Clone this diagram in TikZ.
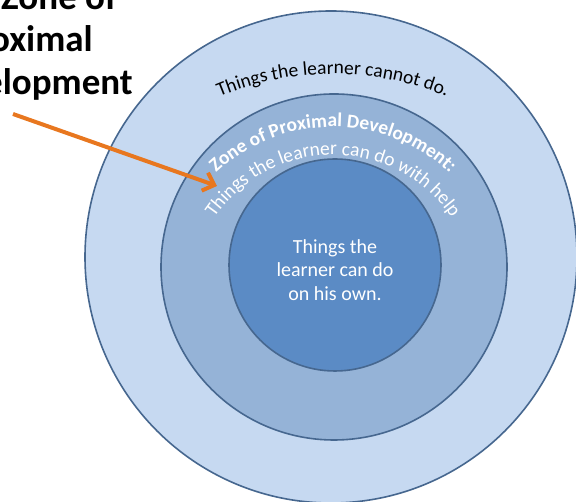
\documentclass[tikz,border=0pt]{standalone}
\usepackage{fontspec}
\setmainfont{Carlito}
\usetikzlibrary{arrows.meta,decorations.text}
\definecolor{outerblue}{HTML}{C6D9F1}
\definecolor{midblue}{HTML}{95B3D7}
\definecolor{innerblue}{HTML}{5B8BC5}
\definecolor{ringline}{HTML}{46678F}
\definecolor{zpdorange}{HTML}{E8771F}
\tikzset{ring/.style={draw=ringline,line width=1.6pt},
         titletext/.style={anchor=base east,inner sep=0pt,font=\bfseries\fontsize{37}{44}\selectfont}}

\begin{document}
\begin{tikzpicture}[x=1pt,y=1pt]
  \useasboundingbox (0,0) rectangle (576,502);
  \clip (0,0) rectangle (576,502);
  % the three zones
  \filldraw[ring,fill=outerblue] (331,245) circle (246pt);
  \filldraw[ring,fill=midblue]   (334,235) circle (173pt);
  \filldraw[ring,fill=innerblue] (335,237) circle (106pt);
  % arc centres for the curved texts
  \coordinate (outerc) at (333,132);
  \coordinate (midc)   at (333,204);
  \path[decorate,decoration={text along path,text align=center,
        text={|\fontsize{19.5}{23}\selectfont|Things the learner cannot do.}}]
    (outerc) ++(140:296pt) arc (140:40:296pt);
  \path[decorate,decoration={text along path,text align=center,
        text={|\color{white}\bfseries\fontsize{19.5}{23}\selectfont|Zone of Proximal Development:}}]
    (midc) ++(165:171pt) arc (165:15:171pt);
  \path[decorate,decoration={text along path,text align=center,
        text={|\color{white}\fontsize{19.5}{23}\selectfont|Things the learner can do with help}}]
    (midc) ++(170:143pt) arc (170:10:143pt);
  \node[text=white,align=center,font=\fontsize{20}{23.5}\selectfont] (own) at (335,232)
    {Things the\\learner can do\\on his own.};
  % heading, cut at the edge
  \node[titletext] (zone) at (117,492) {Zone of};
  \node[titletext] (prox) at (93,450)  {Proximal};
  \node[titletext] (dev)  at (133,407) {Development};
  % pointer
  \coordinate (arrowstart) at (13,388);
  \coordinate (arrowtip)   at (217,316);
  \draw[zpdorange,line width=4pt,-{Straight Barb[length=10pt,width=19pt]}] (arrowstart) -- (arrowtip);
\end{tikzpicture}
\end{document}
